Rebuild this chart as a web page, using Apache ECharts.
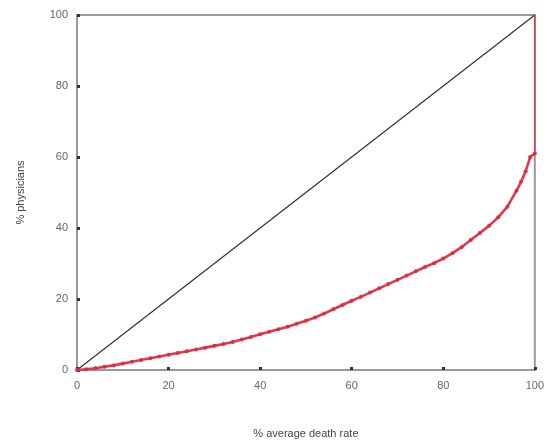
<!DOCTYPE html>
<html style="height: 100%">
<head>
<meta charset="UTF-8">
<title>Death rate curve</title>
<script src="https://cdn.jsdelivr.net/npm/echarts@6/dist/echarts.min.js"></script>
</head>
<body style="height: 100%;margin: 0;background:#fff">
<div id="chart" style="width:547px;height:444px"></div>
<script type="text/javascript">
// % average death rate (x) vs % physicians (y)
var deathRate = [0,2,4,6,8,10,12,14,16,18,20,22,24,26,28,30,32,34,36,38,40,42,44,46,48,50,
	52,54,56,58,60,62,64,66,68,70,72,74,76,78,80,82,84,86,88,90,92,94,96,97,98,99,100];
var physicians = [0,0.2,0.5,0.9,1.3,1.8,2.3,2.8,3.3,3.8,4.3,4.8,5.3,5.8,6.3,6.8,7.3,7.9,8.6,9.3,10.1,10.8,11.5,12.2,13.0,13.9,
	14.8,15.9,17.1,18.3,19.5,20.6,21.8,23.0,24.2,25.4,26.6,27.8,29.0,30.1,31.4,32.9,34.6,36.6,38.6,40.6,43.0,46.0,50.5,53,56,60,61];
// final jump at 100%
var tailX = [100, 100];
var tailY = [61, 100];
// line of equality
var diagX = [0, 100];
var diagY = [0, 100];
var ticks = [0, 20, 40, 60, 80, 100];

function pairs(xs, ys){
	var out = [];
	for(var i=0;i<xs.length;i++){
		out.push([xs[i], ys[i]]);
	}
	return out;
}

var myChart = echarts.init(document.getElementById("chart"));
var axisCommon = {
	type: 'value',
	min: ticks[0],
	max: ticks[ticks.length-1],
	interval: 20,
	nameLocation: 'middle',
	nameTextStyle: {color: '#444', fontSize: 11, fontFamily: 'Liberation Sans'},
	axisLine: {lineStyle: {color: '#999', width: 2}},
	axisTick: {show: true, inside: true, length: 3, lineStyle: {color: '#333', width: 3}},
	axisLabel: {color: '#666', fontSize: 11, fontFamily: 'Liberation Sans'},
	splitLine: {show: false}
};

var option = {
	animation: false,
	grid: {left: 77, right: 11, top: 15, bottom: 71, show: true, borderColor: '#999', borderWidth: 2},
	xAxis: echarts.util.merge({name: '% average death rate', nameGap: 58, axisLabel: {margin: 10}}, axisCommon),
	yAxis: echarts.util.merge({name: '% physicians', nameGap: 51, axisLabel: {margin: 9}}, axisCommon),
	series: [{
		type: 'line',
		data: pairs(diagX, diagY),
		symbol: 'none',
		lineStyle: {color: '#333', width: 1.2}
	},{
		type: 'line',
		data: pairs(deathRate, physicians),
		symbol: 'circle',
		symbolSize: 4,
		itemStyle: {color: '#dc2f42'},
		lineStyle: {color: '#e0384a', width: 2.6}
	},{
		type: 'line',
		data: pairs(tailX, tailY),
		symbol: 'none',
		lineStyle: {color: '#d8404c', width: 1.5}
	}]
};
myChart.setOption(option, true);
</script>
</body>
</html>
